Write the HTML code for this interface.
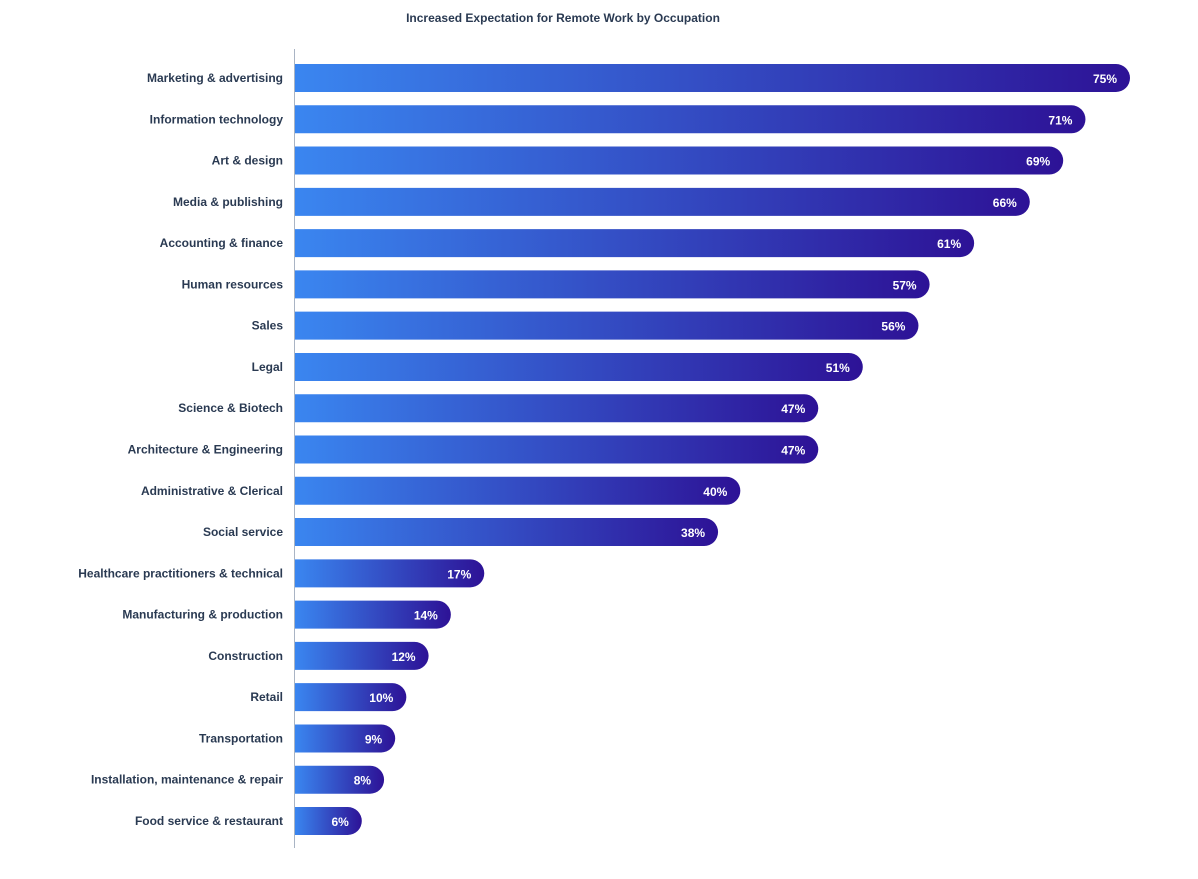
<!DOCTYPE html>
<html><head><meta charset="utf-8"><style>
body{margin:0;background:#fff;}
svg text{font-family:"Liberation Sans",sans-serif;}
</style></head><body>
<svg id="chart" width="1198" height="874">
<defs><linearGradient id="g" x1="0" x2="1" y1="0" y2="0"><stop offset="0" stop-color="#3a86f0"/><stop offset="1" stop-color="#2d1296"/></linearGradient></defs>
<text x="563" y="22" text-anchor="middle" font-size="12" font-weight="bold" fill="#2a3a52">Increased Expectation for Remote Work by Occupation</text>
<line x1="294.5" y1="49" x2="294.5" y2="848" stroke="#a9b4c4" stroke-width="1"/>
<g id="bars"></g>
</svg>
<script>
const categories=["Marketing & advertising","Information technology","Art & design","Media & publishing","Accounting & finance","Human resources","Sales","Legal","Science & Biotech","Architecture & Engineering","Administrative & Clerical","Social service","Healthcare practitioners & technical","Manufacturing & production","Construction","Retail","Transportation","Installation, maintenance & repair","Food service & restaurant"];
const values=[75,71,69,66,61,57,56,51,47,47,40,38,17,14,12,10,9,8,6];
const labels=["75%","71%","69%","66%","61%","57%","56%","51%","47%","47%","40%","38%","17%","14%","12%","10%","9%","8%","6%"];
const x0=295, pxPer=835/75, yTop=78, step=(821-78)/18, h=28, r=14;
const xs=v=>x0+v*pxPer, ys=i=>yTop+i*step;
const g=document.getElementById('bars');
const NS="http://www.w3.org/2000/svg";
categories.forEach((c,i)=>{
  const yc=ys(i), x1=xs(values[i]), w=x1-x0, y=yc-h/2;
  const p=document.createElementNS(NS,'path');
  p.setAttribute('d',`M${x0},${y}H${x1-r}A${r},${r} 0 0 1 ${x1-r},${y+h}H${x0}Z`);
  p.setAttribute('fill','url(#g)');
  
  
  g.appendChild(p);
  const t=document.createElementNS(NS,'text');
  t.setAttribute('x',283);t.setAttribute('y',yc+4);t.setAttribute('text-anchor','end');
  t.setAttribute('font-size','12');t.setAttribute('font-weight','bold');t.setAttribute('fill','#2a3a52');
  t.textContent=c;
  
  
  g.appendChild(t);
  const v=document.createElementNS(NS,'text');
  v.setAttribute('x',x1-13);v.setAttribute('y',yc+5);v.setAttribute('text-anchor','end');
  v.setAttribute('font-size','12');v.setAttribute('font-weight','bold');v.setAttribute('fill','#fff');
  v.textContent=labels[i];
  
  
  g.appendChild(v);
});
</script>
</body></html>
